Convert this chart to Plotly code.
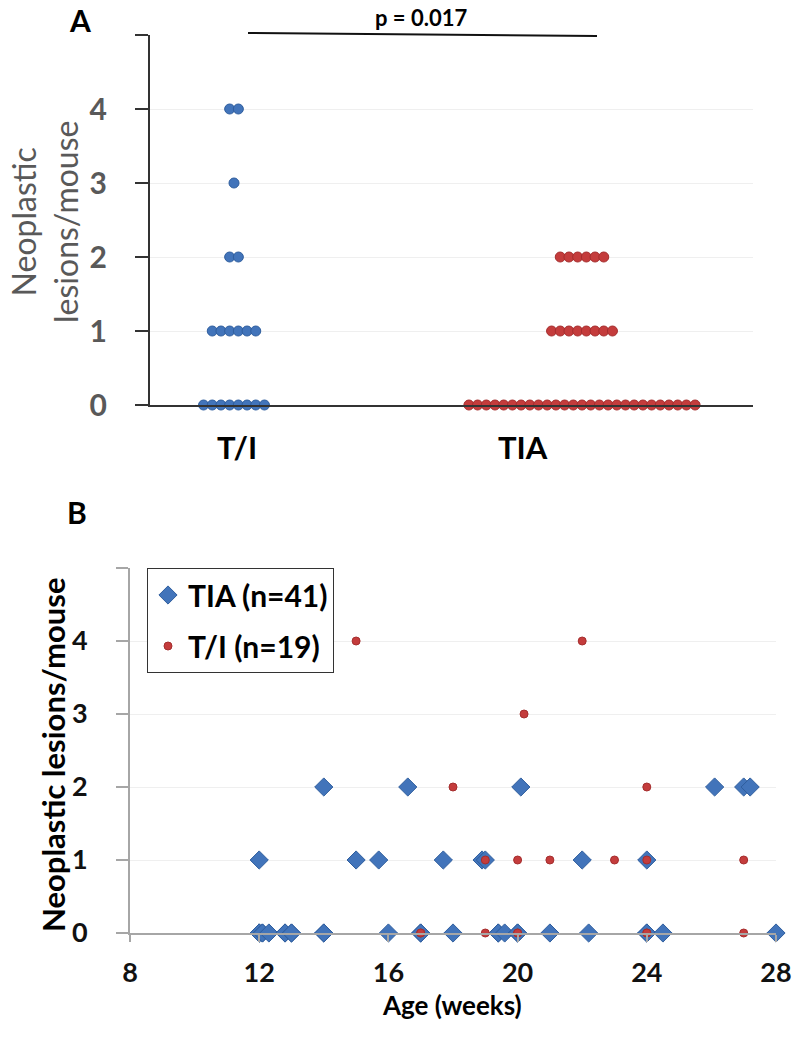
import plotly.graph_objects as go

# ---------------- DATA ----------------
# Panel A: number of mice per lesion count (0..4)
lesion_levels = [0, 1, 2, 3, 4]
ti_counts = [8, 6, 2, 1, 2]      # T/I (n=19)
tia_counts = [27, 8, 6, 0, 0]    # TIA (n=41)
group_labels = ["T/I", "TIA"]
p_text = "p = 0.017"

# Panel B: age (weeks) vs lesions per mouse
tia_age = [12.0, 12.0, 12.0, 12.1, 12.1, 12.3, 12.8, 12.8, 13.0, 13.0, 14.0, 14.0,
           16.0, 17.0, 17.0, 18.0, 19.4, 19.4, 19.6, 20.0, 20.0, 21.0, 22.2, 24.0,
           24.0, 24.5, 28.0,
           12.0, 15.0, 15.7, 17.7, 18.9, 19.0, 22.0, 24.0,
           14.0, 16.6, 20.1, 26.1, 27.0, 27.2]
tia_lesions = [0] * 27 + [1] * 8 + [2] * 6
ti_age = [17.0, 17.0, 19.0, 20.0, 20.0, 24.0, 24.0, 27.0,
          19.0, 20.0, 21.0, 23.0, 24.0, 27.0,
          18.0, 24.0,
          20.2,
          15.0, 22.0]
ti_lesions = [0] * 8 + [1] * 6 + [2] * 2 + [3] + [4] * 2
b_xticks = [8, 12, 16, 20, 24, 28]
y_ticks = [0, 1, 2, 3, 4, 5]

# ---------------- LAYOUT CONSTANTS ----------------
W, H = 800, 1047
BLUE = "#4274BA"
BLUE_EDGE = "#2F5E9E"
RED = "#C43C3C"
RED_EDGE = "#A52E2E"
FONT = "Lato"

def px(x):
    return x / W

def py(y):
    return 1 - y / H

# panel A x-axis in pixel-like units (0 at y-axis)
A_LEFT, A_RIGHT = 150, 753
centers = {"T/I": 234 - A_LEFT, "TIA": 582 - A_LEFT}
label_pos = {"T/I": 237 - A_LEFT, "TIA": 523 - A_LEFT}
spacing = 8.7

def dot_positions(counts, center):
    xs, ys = [], []
    for lvl, n in zip(lesion_levels, counts):
        for i in range(n):
            xs.append(center + (i - (n - 1) / 2) * spacing)
            ys.append(lvl)
    return xs, ys

fig = go.Figure()

xa, ya = dot_positions(ti_counts, centers["T/I"])
fig.add_trace(go.Scatter(x=xa, y=ya, mode="markers", showlegend=False, cliponaxis=False,
                         marker=dict(size=10, color=BLUE, line=dict(color=BLUE_EDGE, width=1)),
                         xaxis="x", yaxis="y"))
xb, yb = dot_positions(tia_counts, centers["TIA"])
fig.add_trace(go.Scatter(x=xb, y=yb, mode="markers", showlegend=False, cliponaxis=False,
                         marker=dict(size=10, color=RED, line=dict(color=RED_EDGE, width=1)),
                         xaxis="x", yaxis="y"))

# Panel B
fig.add_trace(go.Scatter(x=tia_age, y=tia_lesions, mode="markers", name="TIA (n=41)",
                         legendgroup="tia", cliponaxis=False,
                         marker=dict(symbol="diamond", size=14, color=BLUE,
                                     line=dict(color=BLUE_EDGE, width=1)),
                         xaxis="x2", yaxis="y2"))
fig.add_trace(go.Scatter(x=ti_age, y=ti_lesions, mode="markers", name="T/I (n=19)",
                         legendgroup="ti", cliponaxis=False,
                         marker=dict(symbol="circle", size=8, color=RED,
                                     line=dict(color=RED_EDGE, width=1)),
                         xaxis="x2", yaxis="y2"))

fig.update_layout(
    template="none",
    width=W, height=H,
    margin=dict(l=0, r=0, t=0, b=0, pad=0, autoexpand=False),
    paper_bgcolor="white", plot_bgcolor="white",
    font=dict(family=FONT, color="#000"),
    xaxis=dict(domain=[px(A_LEFT), px(A_RIGHT)], range=[0, A_RIGHT - A_LEFT],
               automargin=False,
               showline=True, linecolor="#333", linewidth=2, showgrid=False,
               zeroline=False, showticklabels=False, ticks=""),
    yaxis=dict(domain=[py(405), py(35)], range=[0, 5], tickvals=y_ticks,
               ticktext=["0", "1", "2", "3", "4", ""], automargin=False,
               showline=True, linecolor="#333", linewidth=2,
               ticks="outside", ticklen=13, tickwidth=2, tickcolor="#333",
               ticklabelstandoff=22,
               tickfont=dict(family=FONT, size=30, color="#595959", weight="bold"),
               showgrid=True, gridcolor="#efefef", gridwidth=1, zeroline=False),
    xaxis2=dict(domain=[px(130), px(776)], range=[8, 28], tickvals=b_xticks,
                automargin=False,
                showline=True, linecolor="#A6A6A6", linewidth=2,
                ticks="outside", ticklen=7, tickwidth=2, tickcolor="#A6A6A6",
                ticklabelstandoff=8,
                tickfont=dict(family=FONT, size=27, color="#111", weight="bold"),
                showgrid=False, zeroline=False, anchor="y2"),
    yaxis2=dict(domain=[py(933), py(568)], range=[0, 5], tickvals=y_ticks,
                ticktext=["0", "1", "2", "3", "4", ""], automargin=False,
                showline=True, linecolor="#A6A6A6", linewidth=2,
                ticks="outside", ticklen=12, tickwidth=2, tickcolor="#A6A6A6",
                ticklabelstandoff=23,
                tickfont=dict(family=FONT, size=27, color="#111", weight="bold"),
                showgrid=True, gridcolor="#efefef", gridwidth=1, zeroline=False,
                anchor="x2"),
    legend=dict(x=px(147), y=py(568), xanchor="left", yanchor="top",
                bordercolor="#333", borderwidth=1, bgcolor="white",
                font=dict(family=FONT, size=30, color="#000", weight="bold"),
                tracegroupgap=9, itemwidth=30),
)

ann = []
def add(x, y, text, size, color="#000", angle=0, yanchor="middle"):
    ann.append(dict(x=x, y=y, xref="paper", yref="paper", text=text,
                    xanchor="center", yanchor=yanchor, textangle=angle,
                    showarrow=False, font=dict(size=size, family=FONT, color=color)))

# panel letters
add(px(80), py(0), "<b>A</b>", 30, yanchor="top")
add(px(77), py(512), "<b>B</b>", 30)
# p value
add(px(421), py(17), "<b>" + p_text + "</b>", 22)
# group labels
for g in group_labels:
    ann.append(dict(x=label_pos[g], y=py(447), xref="x", yref="paper", text="<b>" + g + "</b>",
                    xanchor="center", yanchor="middle",
                    showarrow=False, font=dict(size=31, family=FONT, color="#000")))
# axis titles
add(px(44), py(222), "Neoplastic<br>lesions/mouse", 32, color="#595959", angle=-90)
add(px(53), py(755), "<b>Neoplastic lesions/mouse</b>", 31, angle=-90)
add(px(452), py(1005), "<b>Age (weeks)</b>", 26)
fig.update_layout(annotations=ann)

# significance line
fig.add_shape(type="line", xref="paper", yref="paper",
              x0=px(248), y0=py(33), x1=px(597), y1=py(36),
              line=dict(color="#111", width=2))

fig.write_html("out.html", config={"displayModeBar": False},
               post_script="document.body.style.margin='0';")
